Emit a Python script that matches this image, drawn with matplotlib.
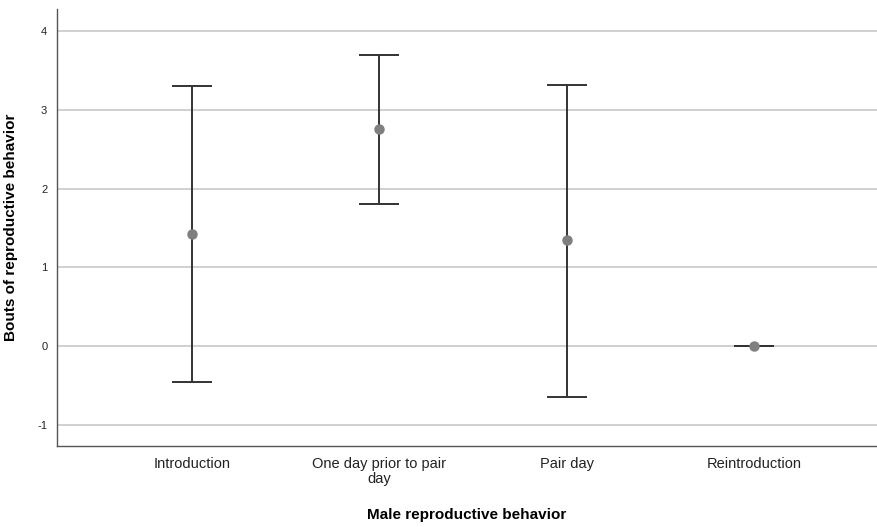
import matplotlib
matplotlib.use("Agg")
import matplotlib.pyplot as plt
import numpy as np

plt.rcParams["font.family"] = ["Liberation Sans", "DejaVu Sans"]
plt.rcParams["axes.unicode_minus"] = False

categories = ["Introduction", "One day prior to pair\nday", "Pair day", "Reintroduction"]
means = [1.42, 2.75, 1.34, 0.0]
upper = [3.30, 3.69, 3.31, 0.0]
lower = [-0.46, 1.80, -0.65, 0.0]

x = np.arange(len(categories))
means_a = np.array(means)
yerr = np.vstack([means_a - np.array(lower), np.array(upper) - means_a])

fig = plt.figure(figsize=(8.77, 5.27), dpi=100)
ax = fig.add_axes([57 / 877, 81 / 527, 820 / 877, 437 / 527])

ax.errorbar(x, means, yerr=yerr, fmt="none", ecolor="#333333", elinewidth=1.4,
            capsize=14.5, capthick=1.4, zorder=3)
ax.plot(x, means, "o", color="#7f7f7f", markersize=6.5, zorder=4)

ax.set_xlim(-0.72, 3.656)
ax.set_ylim(-1.27, 4.28)
ax.set_yticks([-1, 0, 1, 2, 3, 4])
ax.set_xticks(x)
ax.set_xticklabels(categories, fontsize=10.5, color="#222222", linespacing=1.1)
ax.tick_params(axis="y", length=0, labelsize=8, pad=7, labelcolor="#222222")
ax.tick_params(axis="x", length=0, pad=8)
ax.yaxis.grid(True, color="#c8c8c8", linewidth=1.2)
ax.set_axisbelow(True)

for side in ("top", "right"):
    ax.spines[side].set_visible(False)
for side in ("left", "bottom"):
    ax.spines[side].set_color("#555555")
    ax.spines[side].set_linewidth(1.0)

ax.set_xlabel("Male reproductive behavior", fontsize=11, fontweight="bold")
ax.xaxis.set_label_coords(0.5, -62 / 437)
ax.set_ylabel("Bouts of reproductive behavior", fontsize=11, fontweight="bold")
ax.yaxis.set_label_coords(-39 / 820, 0.5)

fig.savefig("out.png", dpi=100)
plt.close(fig)
